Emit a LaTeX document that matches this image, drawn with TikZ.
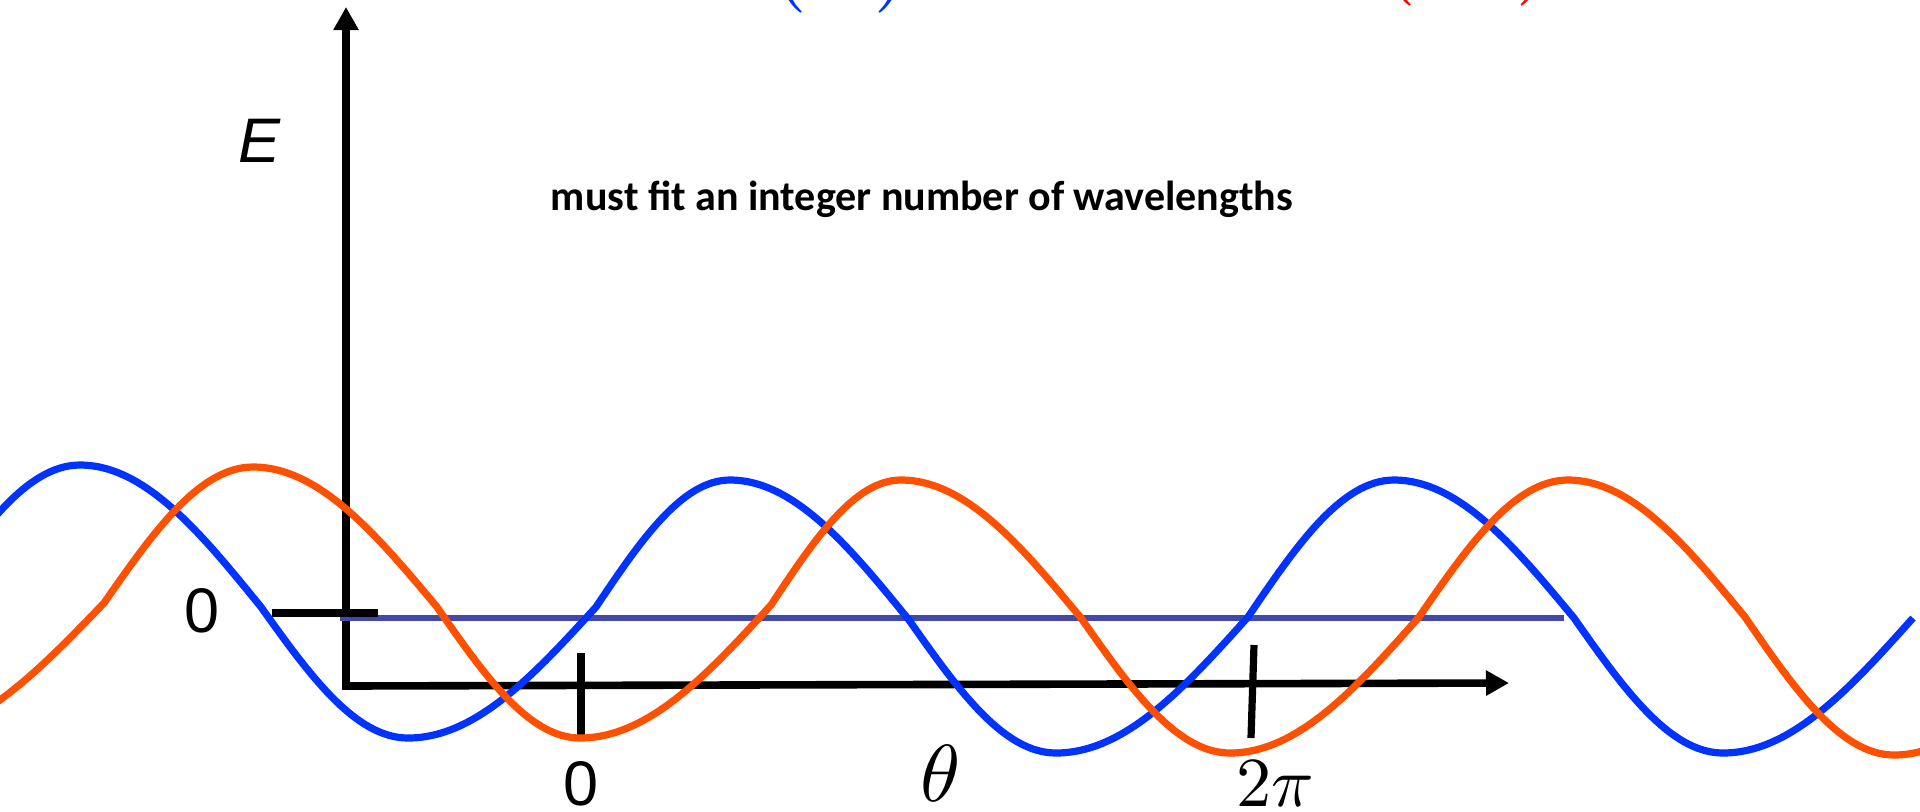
\documentclass[tikz,border=0pt]{standalone}
\usepackage{fontspec}
\setmainfont{Liberation Sans}
\newfontfamily\titlefont{Carlito}
\usetikzlibrary{arrows.meta}
\definecolor{wblue}{RGB}{0,51,255}
\definecolor{worange}{RGB}{255,80,0}
\definecolor{elevel}{RGB}{67,73,170}
\tikzset{
  axisline/.style={line width=0.076cm, black},
  tickline/.style={line width=0.072cm, black},
  levelline/.style={line width=0.062cm, elevel},
  wave/.style={line width=0.072cm, line join=round},
  lab/.style={inner sep=0pt, font=\fontsize{17.9}{20}\selectfont},
  mlab/.style={inner sep=0pt},
  titlestyle/.style={inner sep=0pt, font=\titlefont\bfseries\fontsize{11.95}{14}\selectfont}
}
\begin{document}
\begin{tikzpicture}[x=0.01cm,y=-0.01cm]
\useasboundingbox (0,0) rectangle (1920,811);
\clip (0,0) rectangle (1920,811);

% axes
\coordinate (ytip) at (346,7);
\coordinate (origin) at (346,686);
\coordinate (xtip) at (1509,683);
\draw[axisline, {Triangle[length=0.23cm,width=0.24cm]}-{Triangle[length=0.23cm,width=0.24cm]}] (ytip) -- (origin) -- (xtip);

% energy level line
\coordinate (lvlL) at (340,618);
\coordinate (lvlR) at (1564,618);
\draw[levelline] (lvlL) -- (lvlR);

% ticks
\coordinate (etickL) at (272,613);
\coordinate (etickR) at (378,613);
\draw[tickline] (etickL) -- (etickR);
\coordinate (t0top) at (581,653);
\coordinate (t0bot) at (581,735);
\draw[tickline] (t0top) -- (t0bot);
\coordinate (t2top) at (1254,645);
\coordinate (t2bot) at (1251,738);
\draw[tickline] (t2top) -- (t2bot);

% blue wave
\draw[wave, wblue] (-70,605) sin (80,465) cos (261,607) sin (408,738) cos (596,607)
  sin (730,480) cos (909,620) sin (1056,753) cos (1248,617)
  sin (1394,480) cos (1574,618) sin (1723,753) cos (1913,618);

% orange wave
\draw[wave, worange] (-100,738) cos (104,603) sin (253,467) cos (437,607) sin (580,738)
  cos (771,605) sin (901,480) cos (1081,618) sin (1230,753)
  cos (1419,617) sin (1568,480) cos (1745,617) sin (1894,755) cos (2080,617);

% labels
\node[lab] (Elabel) at (259,141) {\itshape E};
\node[lab] (zeroE) at (202,611) {0};
\node[lab] (zeroT) at (581,784) {0};
\node[mlab, scale=2.3] (thetalab) at (941,773) {$\theta$};
\node[mlab, scale=2.0] (twopi) at (1275,784) {$2\pi$};
\node[titlestyle] (title) at (922,199) {must fit an integer number of wavelengths};

% cut-off formula fragments at the top edge
\node[mlab, scale=2.8, text=wblue, anchor=base west] (bluefrag) at (768,-12) {$(\theta\,)$};
\node[mlab, scale=2.8, text=red, anchor=base west] (redfrag) at (1377,-19) {$(\quad)$};
\end{tikzpicture}
\end{document}
